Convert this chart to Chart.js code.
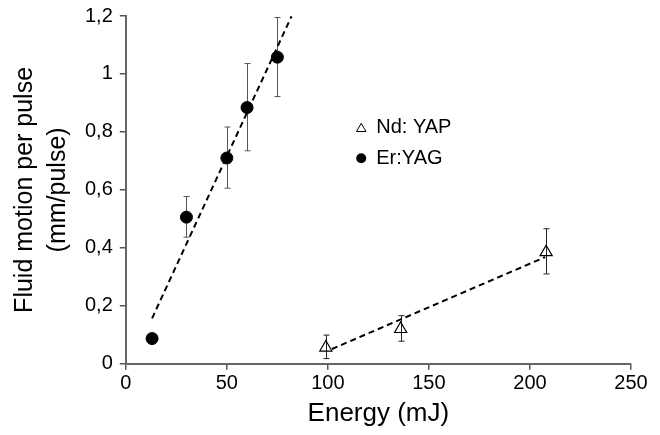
<!DOCTYPE html>
<html>
<head>
<meta charset="utf-8">
<script src="https://cdn.jsdelivr.net/npm/chart.js@4.4.0/dist/chart.umd.min.js"></script>
<style>
  html, body { margin: 0; padding: 0; background: #fff; }
  #wrap { width: 660px; height: 435px; }
</style>
</head>
<body>
<div id="wrap"><canvas id="myChart"></canvas></div>
<script>
// Er:YAG measurements
const erEnergy = [13, 30, 50, 60, 75];
const erMotion = [0.087, 0.506, 0.71, 0.884, 1.058];
const erLow = [0.087, 0.437, 0.606, 0.735, 0.922];
const erHigh = [0.087, 0.577, 0.817, 1.036, 1.195];
// Nd:YAP measurements
const ndEnergy = [99, 136, 208];
const ndMotion = [0.056, 0.12, 0.385];
const ndLow = [0.018, 0.078, 0.31];
const ndHigh = [0.099, 0.166, 0.466];
// fitted trend lines (end points)
const erFitX = [13, 82];
const erFitY = [0.157, 1.199];
const ndFitX = [102, 207.5];
const ndFitY = [0.051, 0.368];

const legendNames = ['Nd: YAP', 'Er:YAG'];
const xTicks = [0, 50, 100, 150, 200, 250];
const yTicks = [0, 0.2, 0.4, 0.6, 0.8, 1, 1.2];

function pts(xs, ys) {
  return xs.map((x, i) => ({ x: x, y: ys[i] }));
}

const errorBars = {
  id: 'errorBars',
  beforeDatasetsDraw(chart) {
    const ctx = chart.ctx;
    const xs = chart.scales.x, ys = chart.scales.y;
    chart.data.datasets.forEach(ds => {
      if (!ds.errLow) return;
      ctx.save();
      ctx.strokeStyle = ds.errColor;
      ctx.lineWidth = 1;
      ds.data.forEach((p, i) => {
        if (ds.errHigh[i] - ds.errLow[i] < 0.001) return;
        const x = Math.round(xs.getPixelForValue(p.x)) + 0.5;
        const y1 = ys.getPixelForValue(ds.errLow[i]);
        const y2 = ys.getPixelForValue(ds.errHigh[i]);
        ctx.beginPath();
        ctx.moveTo(x, y1); ctx.lineTo(x, y2);
        ctx.moveTo(x - 3, y1); ctx.lineTo(x + 3, y1);
        ctx.moveTo(x - 3, y2); ctx.lineTo(x + 3, y2);
        ctx.stroke();
      });
      ctx.restore();
    });
  }
};

const innerLegend = {
  id: 'innerLegend',
  afterDraw(chart) {
    const ctx = chart.ctx;
    const a = chart.chartArea;
    const lx = a.left + 0.466 * (a.right - a.left);
    const rows = [a.top + 0.32 * (a.bottom - a.top), a.top + 0.409 * (a.bottom - a.top)];
    ctx.save();
    ctx.font = '20px "Liberation Sans", Arial, sans-serif';
    ctx.fillStyle = '#fff';
    ctx.strokeStyle = '#000';
    ctx.lineWidth = 1;
    // open triangle
    Chart.helpers.drawPoint(ctx, { pointStyle: 'triangle', radius: 5.5, borderWidth: 1, rotation: 0 }, lx, rows[0] + 1.5);
    ctx.fillStyle = '#000';
    ctx.beginPath();
    ctx.arc(lx, rows[1], 5, 0, Math.PI * 2);
    ctx.fill();
    ctx.textBaseline = 'middle';
    ctx.fillText(legendNames[0], lx + 15, rows[0]);
    ctx.fillText(legendNames[1], lx + 15, rows[1]);
    ctx.restore();
  }
};

const fmt = v => {
  const r = Math.round(v * 10) / 10;
  return String(r).replace('.', ',');
};

new Chart(document.getElementById('myChart'), {
  type: 'scatter',
  data: {
    datasets: [
      {
        label: 'Er:YAG fit',
        data: pts(erFitX, erFitY),
        showLine: true,
        borderColor: '#000',
        borderWidth: 2,
        borderDash: [6, 4],
        pointRadius: 0
      },
      {
        label: 'Nd: YAP fit',
        data: pts(ndFitX, ndFitY),
        showLine: true,
        borderColor: '#000',
        borderWidth: 2,
        borderDash: [6, 4],
        pointRadius: 0
      },
      {
        label: legendNames[1],
        data: pts(erEnergy, erMotion),
        errLow: erLow,
        errHigh: erHigh,
        errColor: '#555',
        pointStyle: 'circle',
        pointRadius: 6,
        borderWidth: 1,
        backgroundColor: '#000',
        borderColor: '#000'
      },
      {
        label: legendNames[0],
        data: pts(ndEnergy, ndMotion),
        errLow: ndLow,
        errHigh: ndHigh,
        errColor: '#222',
        pointStyle: 'triangle',
        pointRadius: 7,
        borderWidth: 1.2,
        backgroundColor: 'rgba(255,255,255,0)',
        borderColor: '#000'
      }
    ]
  },
  options: {
    responsive: true,
    maintainAspectRatio: false,
    animation: false,
    layout: { padding: { left: 9, right: 29, top: 16, bottom: 6 } },
    plugins: {
      legend: { display: false },
      tooltip: { enabled: false }
    },
    scales: {
      x: {
        type: 'linear',
        min: 0, max: 250,
        afterBuildTicks: s => { s.ticks = xTicks.map(v => ({ value: v })); },
        ticks: { color: '#000', font: { family: '"Liberation Sans", Arial', size: 20 }, padding: 2 },
        grid: { drawOnChartArea: false, drawTicks: true, tickLength: 6, color: '#555', lineWidth: 1.5 },
        border: { display: true, color: '#666', width: 2 },
        title: {
          display: true, text: 'Energy (mJ)', color: '#000',
          font: { family: '"Liberation Sans", Arial', size: 26 }, padding: { top: 0, bottom: 0 }
        }
      },
      y: {
        type: 'linear',
        min: 0, max: 1.2,
        afterBuildTicks: s => { s.ticks = yTicks.map(v => ({ value: v })); },
        afterFit: s => { s.paddingTop = 0; },
        ticks: { color: '#000', font: { family: '"Liberation Sans", Arial', size: 20 }, padding: 7, callback: v => fmt(v) },
        grid: { drawOnChartArea: false, drawTicks: true, tickLength: 6, color: '#555', lineWidth: 1.5 },
        border: { display: true, color: '#666', width: 2 },
        title: {
          display: true, text: ['Fluid motion per pulse', '(mm/pulse)'], color: '#000',
          font: { family: '"Liberation Sans", Arial', size: 25, lineHeight: 1.3 }, padding: { top: 0, bottom: 4 }
        }
      }
    }
  },
  plugins: [errorBars, innerLegend]
});
</script>
</body>
</html>
